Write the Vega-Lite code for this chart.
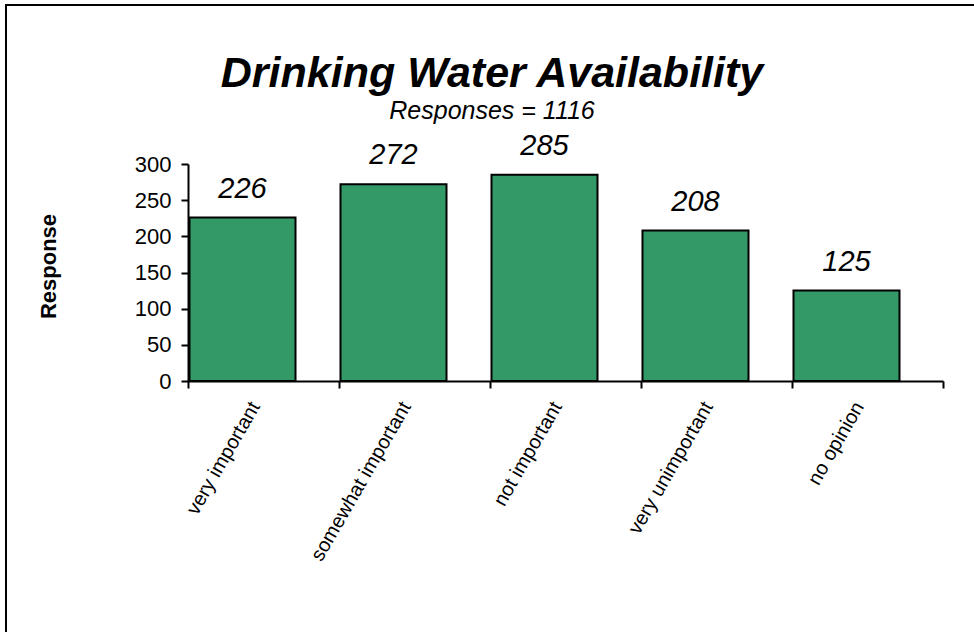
{
  "$schema": "https://vega.github.io/schema/vega-lite/v6.json",
  "width": 1000,
  "height": 660,
  "autosize": {"type": "none"},
  "padding": {"left": 6, "top": 5, "right": -32, "bottom": -33},
  "background": "white",
  "title": {
    "text": "Drinking Water Availability",
    "subtitle": "Responses = 1116",
    "anchor": "middle",
    "frame": "group",
    "offset": -119,
    "dx": -14,
    "font": "Liberation Sans",
    "fontSize": 43,
    "fontStyle": "italic",
    "fontWeight": "bold",
    "color": "black",
    "subtitleFont": "Liberation Sans",
    "subtitleFontSize": 25,
    "subtitleFontStyle": "italic",
    "subtitleColor": "black",
    "subtitlePadding": 3
  },
  "data": {
    "values": [
      {"category": "very important", "responses": 226},
      {"category": "somewhat important", "responses": 272},
      {"category": "not important", "responses": 285},
      {"category": "very unimportant", "responses": 208},
      {"category": "no opinion", "responses": 125}
    ]
  },
  "encoding": {
    "x": {
      "field": "category",
      "type": "nominal",
      "sort": null,
      "scale": {"range": [182, 937], "paddingInner": 0, "paddingOuter": 0},
      "axis": {
        "title": null,
        "orient": "bottom",
        "offset": -284,
        "grid": false,
        "domainColor": "black",
        "domainWidth": 2,
        "tickColor": "black",
        "tickWidth": 2,
        "tickSize": 7,
        "tickBand": "extent",
        "labelAngle": -60,
        "labelFont": "Liberation Sans",
        "labelFontSize": 20,
        "labelColor": "black",
        "labelPadding": 20,
        "labelAlign": "right",
        "labelBaseline": "bottom",
        "labelLimit": 0,
        "zindex": 1
      }
    },
    "y": {
      "field": "responses",
      "type": "quantitative",
      "scale": {"domain": [0, 300], "range": [376, 159], "nice": false},
      "axis": {
        "orient": "left",
        "offset": -182,
        "values": [0, 50, 100, 150, 200, 250, 300],
        "grid": false,
        "domainColor": "black",
        "domainWidth": 2,
        "tickColor": "black",
        "tickWidth": 2,
        "tickSize": 7,
        "labelFont": "Liberation Sans",
        "labelFontSize": 22,
        "labelColor": "black",
        "labelPadding": 10,
        "title": "Response",
        "titleFont": "Liberation Sans",
        "titleFontSize": 22,
        "titleFontWeight": "bold",
        "titleColor": "black",
        "titleAngle": -90,
        "titleAlign": "center",
        "titleBaseline": "alphabetic",
        "titleX": -133,
        "titleY": 261,
        "zindex": 1
      }
    }
  },
  "layer": [
    {
      "mark": {
        "type": "bar",
        "fill": "#339966",
        "stroke": "black",
        "strokeWidth": 2,
        "width": {"band": 0.702},
        "xOffset": -21
      }
    },
    {
      "mark": {
        "type": "text",
        "font": "Liberation Sans",
        "fontStyle": "italic",
        "fontSize": 29,
        "color": "black",
        "baseline": "alphabetic",
        "dy": -20,
        "dx": -21
      },
      "encoding": {"text": {"field": "responses", "type": "quantitative"}}
    }
  ],
  "config": {
    "view": {"stroke": "black", "strokeWidth": 2, "fill": null}
  }
}
